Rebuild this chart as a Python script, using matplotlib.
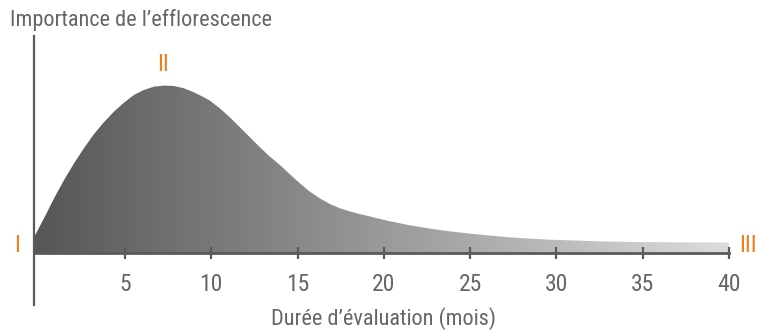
import numpy as np
import matplotlib
matplotlib.use("Agg")
import matplotlib.pyplot as plt
from matplotlib.patches import Polygon

plt.rcParams['font.family'] = ['Roboto Condensed', 'DejaVu Sans']

# Efflorescence curve (relative importance, peak = 100) against months
months = [-0.27, 0.31, 0.89, 1.47, 2.05, 2.62, 3.20, 3.78, 4.36, 4.94, 5.52,
          6.10, 6.68, 7.26, 7.84, 8.42, 9.00, 9.58, 9.92, 10.50, 11.08, 11.66,
          12.24, 12.82, 13.40, 13.98, 14.56, 15.14, 15.72, 16.30, 16.88, 17.46,
          18.04, 18.62, 19.20, 19.78, 20.36, 20.94, 21.5, 22.7, 23.8, 25.0,
          26.2, 27.3, 28.5, 29.6, 30.8, 32.5, 34.5, 37.0, 40.0]
importance = [9.4, 20.8, 32.7, 43.7, 53.7, 62.7, 71.1, 78.3, 84.6, 90.0, 94.6,
              97.6, 99.6, 100.2, 100.0, 98.6, 96.2, 93.2, 91.2, 86.6, 81.2,
              75.3, 69.3, 63.3, 57.7, 52.7, 47.1, 41.7, 36.7, 32.7, 29.3, 26.8,
              24.9, 23.3, 21.9, 20.4, 19.0, 17.8, 16.6, 14.6, 13.0, 11.6, 10.4,
              9.4, 8.6, 8.0, 7.6, 7.0, 6.6, 6.4, 6.3]
tick_months = [5, 10, 15, 20, 25, 30, 35, 40]
stage_labels = ['I', 'II', 'III']

grey = '#5a5a5a'
text_grey = '#666666'
orange = '#f07f1c'

W, H = 759, 334
fig = plt.figure(figsize=(W / 100, H / 100), dpi=100)
ax = fig.add_axes([34 / W, (H - 305) / H, (729 - 34) / W, (305 - 36) / H])
x0 = months[0]
ax.set_xlim(x0, 40)
ax.set_ylim(-31.1, 129.9)

# gradient-filled area under the curve
verts = [(x0, 0)] + list(zip(months, importance)) + [(40, 0)]
poly = Polygon(verts, closed=True, facecolor='none', edgecolor='none')
ax.add_patch(poly)
grad = np.linspace(0, 1, 256).reshape(1, -1)
cmap = matplotlib.colors.LinearSegmentedColormap.from_list('g', ['#565656', '#dcdcdc'])
im = ax.imshow(grad, cmap=cmap, aspect='auto', extent=(x0, 40, 0, 101),
               origin='lower', zorder=1, interpolation='bilinear')
im.set_clip_path(poly)

# axes lines
for s in ['top', 'right']:
    ax.spines[s].set_visible(False)
ax.spines['left'].set_color(grey)
ax.spines['left'].set_linewidth(1.6)
ax.spines['bottom'].set_position(('data', 0))
ax.spines['bottom'].set_bounds(x0, 40)
ax.spines['bottom'].set_color(grey)
ax.spines['bottom'].set_linewidth(2)
ax.spines['bottom'].set_zorder(3)

ax.set_yticks([])
ax.set_xticks(tick_months)
ax.set_xticklabels([str(t) for t in tick_months])
ax.tick_params(axis='x', direction='inout', length=9, width=1.6, color=grey,
               labelcolor=text_grey, labelsize=17, pad=10)

ax.text(20, -39, "Durée d’évaluation (mois)", ha='center', va='center',
        fontsize=16, color=text_grey)
fig.text(10 / W, 1 - 20 / H, "Importance de l’efflorescence", ha='left',
         va='center', fontsize=16, color=text_grey)

# stage markers
marker_style = dict(ha='center', va='center', fontsize=17, color=orange,
                    clip_on=False)
ax.text(-1.26, 4.8, stage_labels[0], **marker_style)
ax.text(7.2, 112.6, stage_labels[1], **marker_style)
ax.text(41.1, 4.8, stage_labels[2], **marker_style)

fig.savefig('out.png', dpi=100)
